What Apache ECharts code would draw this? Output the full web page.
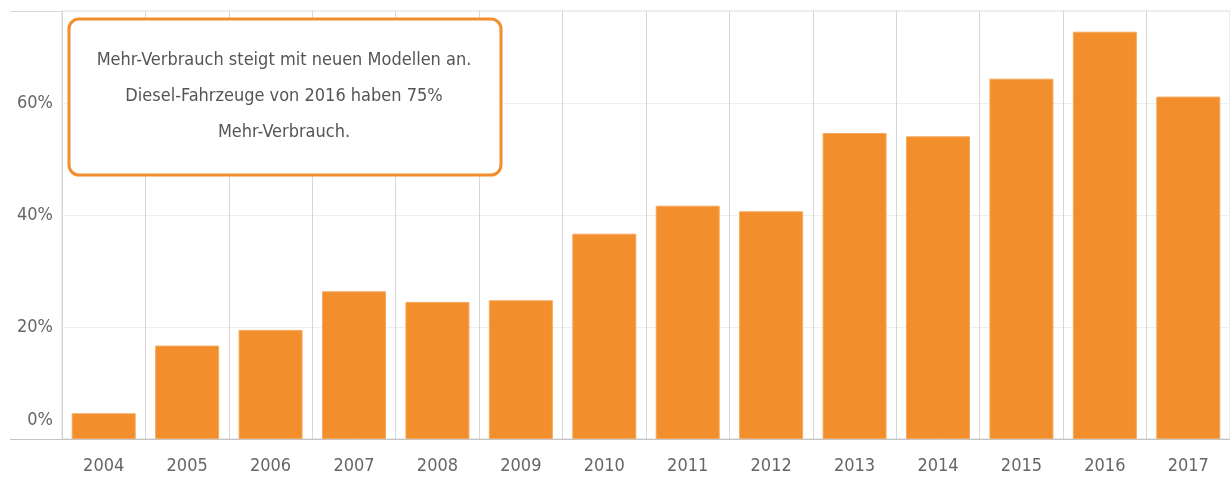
<!DOCTYPE html>
<html>
<head>
<meta charset="utf-8">
<script src="https://cdn.jsdelivr.net/npm/echarts@6/dist/echarts.min.js"></script>
<style>
html,body{margin:0;padding:0;background:#fff;}
#c{width:1230px;height:477px;}
</style>
</head>
<body>
<div id="c"></div>
<script>
const years = ['2004','2005','2006','2007','2008','2009','2010','2011','2012','2013','2014','2015','2016','2017'];
const values = [4.6, 16.7, 19.5, 26.4, 24.5, 24.8, 36.7, 41.7, 40.7, 54.7, 54.1, 64.4, 72.8, 61.2];
const yTicks = [0, 20, 40, 60];
const noteLines = ['Mehr-Verbrauch steigt mit neuen Modellen an.', 'Diesel-Fahrzeuge von 2016 haben 75%', 'Mehr-Verbrauch.'];

const FONT = '"DejaVu Sans Condensed", "Liberation Sans Narrow", sans-serif';
const chart = echarts.init(document.getElementById('c'), null, {renderer: 'canvas'});
chart.setOption({
  animation: false,
  backgroundColor: '#fff',
  grid: {left: 62, top: 11, right: -7, bottom: 38, show: true, borderColor: '#d6d6d6', borderWidth: 1, backgroundColor: 'transparent'},
  xAxis: {
    type: 'category',
    data: years,
    boundaryGap: true,
    axisLine: {show: true, lineStyle: {color: '#c4c4c4', width: 1}},
    axisTick: {show: false},
    splitLine: {show: true, lineStyle: {color: '#d6d6d6', width: 1}},
    axisLabel: {color: '#666', fontFamily: FONT, fontSize: 18, margin: 18, interval: 0}
  },
  yAxis: {
    type: 'value',
    min: 0,
    max: 76.5,
    interval: 20,
    axisLine: {show: false},
    axisTick: {show: false},
    splitLine: {show: true, lineStyle: {color: '#efefef', width: 1}},
    axisLabel: {
      color: '#666', fontFamily: FONT, fontSize: 18, margin: 9,
      formatter: function (v) { return v === 0 ? '{z|0%}' : (yTicks.indexOf(v) >= 0 ? v + '%' : ''); },
      rich: {z: {color: '#666', fontFamily: FONT, fontSize: 18, padding: [0, 0, 38, 0]}}
    }
  },
  series: [{
    type: 'bar',
    data: values,
    barWidth: 64,
    itemStyle: {color: '#F28E2B', borderColor: '#F6A95E', borderWidth: 1}
  }],
  graphic: [
    {type: 'line', shape: {x1: 10, y1: 11.5, x2: 62, y2: 11.5}, style: {stroke: '#d6d6d6', lineWidth: 1}, silent: true},
    {type: 'line', shape: {x1: 10, y1: 439.5, x2: 62, y2: 439.5}, style: {stroke: '#c4c4c4', lineWidth: 1}, silent: true},
    {type: 'rect', shape: {x: 69, y: 19, width: 432, height: 156, r: 10}, style: {fill: '#fff', stroke: '#F28E2B', lineWidth: 3}, z: 100},
    {type: 'text', x: 284, y: 96, style: {text: noteLines.join('\n'), fill: '#555', font: '18px ' + FONT, align: 'center', verticalAlign: 'middle', lineHeight: 36}, z: 101}
  ]
});
</script>
</body>
</html>
